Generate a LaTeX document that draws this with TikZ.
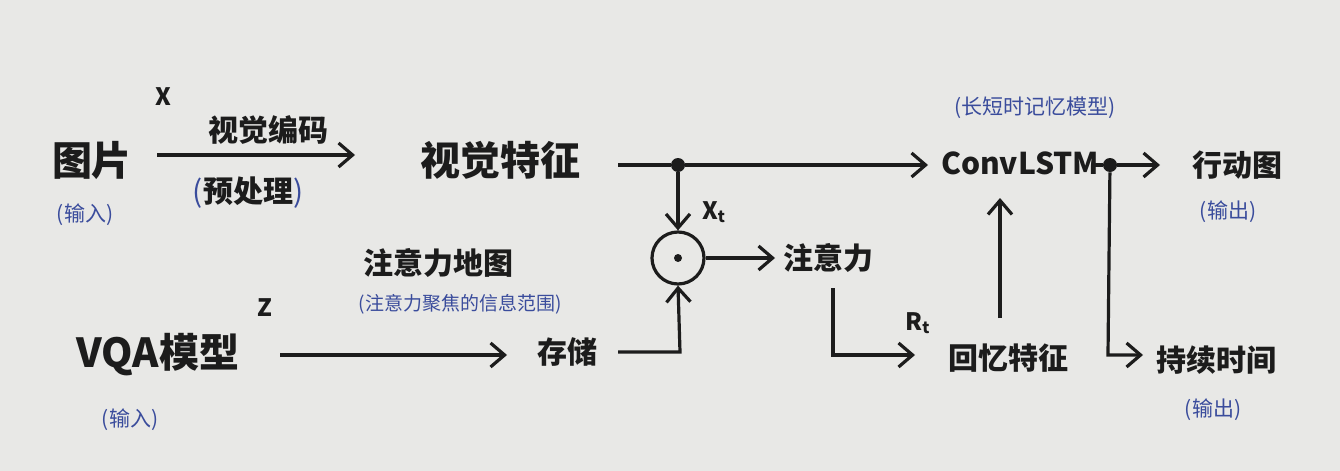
\documentclass[tikz,border=0pt]{standalone}
\usepackage{fontspec}
\setmainfont{Noto Sans CJK SC}
\newfontfamily\cjk{Noto Sans CJK SC}
\usetikzlibrary{arrows.meta}
\definecolor{paper}{HTML}{E8E8E6}
\definecolor{ink}{HTML}{1C1C1C}
\definecolor{pen}{HTML}{3A4C9C}
\tikzset{
  big/.style={font=\cjk\bfseries\fontsize{20}{22}\selectfont, text=ink, inner sep=1pt},
  mid/.style={font=\cjk\bfseries\fontsize{15}{17}\selectfont, text=ink, inner sep=1pt},
  note/.style={font=\cjk\fontsize{10.5}{12}\selectfont, text=pen, inner sep=1pt},
  lbl/.style={font=\cjk\bfseries\fontsize{12}{14}\selectfont, text=ink, inner sep=1pt},
  flow/.style={draw=ink, line width=1.6pt, -{Straight Barb[length=7pt,width=12pt,line width=1.6pt]}},
  plain/.style={draw=ink, line width=1.6pt},
  dot/.style={circle, fill=ink, inner sep=0pt, minimum size=7pt},
}
\begin{document}
\begin{tikzpicture}[x=0.5pt,y=-0.5pt]
\fill[paper] (0,0) rectangle (1340,471);
\useasboundingbox (0,0) rectangle (1340,471);

% nodes
\node[big] (img) at (92,160) {图片};
\node[note] (imgin) at (85,215) {(输入)};
\node[big] (vf) at (500,160) {视觉特征};
\node[big] (vqa) at (158,355) {VQA模型};
\node[note] (vqain) at (130,420) {(输入)};
\node[mid] (store) at (567,352) {存储};
\node[mid] (amap) at (438,263) {注意力地图};
\node[note, font=\cjk\fontsize{9.5}{11}\selectfont] (amapn) at (460,304) {(注意力聚焦的信息范围)};
\node[circle, draw=ink, line width=1.6pt, minimum size=26pt, inner sep=0pt] (odot) at (678,258) {};
\node[dot, minimum size=4pt] (odotc) at (678,258) {};
\node[mid] (att) at (828,258) {注意力};
\node[mid] (conv) at (1020,163) {ConvLSTM};
\node[note] (convn) at (1035,108) {(长短时记忆模型)};
\node[mid] (recall) at (1008,358) {回忆特征};
\node[mid] (act) at (1237,165) {行动图};
\node[note] (actn) at (1228,212) {(输出)};
\node[mid] (dur) at (1216,360) {持续时间};
\node[note] (durn) at (1213,410) {(输出)};

\node[lbl] (xlab) at (163,97) {X};
\node[lbl] (zlab) at (265,308) {Z};
\node[lbl] (xt) at (714,212) {X\textsubscript{t}};
\node[lbl] (rt) at (918,323) {R\textsubscript{t}};

% coordinates
\coordinate (a1s) at (157,155);
\coordinate (a1e) at (355,155);
\node[mid] (enc) at (268,130) {视觉编码};
\node[mid] (pre) at (248,193) {\textcolor{pen}{\mdseries(}预处理\textcolor{pen}{\mdseries)}};

\node[dot] (j1) at (678,165) {};
\node[dot] (j2) at (1110,165) {};
\coordinate (vfout) at (618,165);
\coordinate (convin) at (928,165);
\coordinate (convout) at (1093,165);
\coordinate (actin) at (1160,165);
\coordinate (zs) at (280,355);
\coordinate (ze) at (507,355);
\coordinate (sto) at (618,352);
\coordinate (stoc) at (680,352);
\coordinate (odotout) at (775,258);
\coordinate (attdn) at (833,288);
\coordinate (attc) at (833,355);
\coordinate (attend) at (915,355);
\coordinate (recup) at (1000,318);
\coordinate (convdn) at (1000,198);
\coordinate (durc) at (1108,355);
\coordinate (durin) at (1143,355);

% connectors
\draw[flow] (a1s) -- (a1e);
\draw[plain] (vfout) -- (j1);
\draw[flow] (j1) -- (convin);
\draw[flow] (j1) -- (odot.north);
\draw[flow] (odot.east) -- (odotout);
\draw[flow] (zs) -- (ze);
\draw[flow] (sto) -- (stoc) -- (odot.south);
\draw[flow] (attdn) -- (attc) -- (attend);
\draw[flow] (recup) -- (convdn);
\draw[plain] (convout) -- (j2);
\draw[flow] (j2) -- (actin);
\draw[flow] (j2) -- (durc) -- (durin);
\end{tikzpicture}
\end{document}
